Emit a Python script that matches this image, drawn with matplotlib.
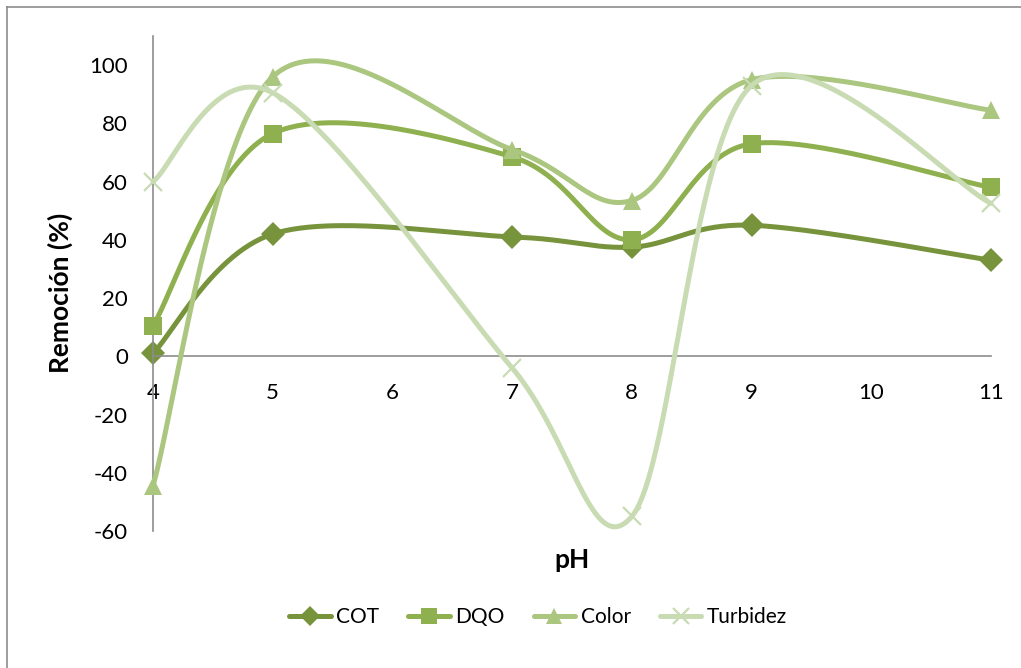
import numpy as np
import matplotlib
matplotlib.use("Agg")
import matplotlib.pyplot as plt
from matplotlib.lines import Line2D

# ---- data ----
ph = [4, 5, 7, 8, 9, 11]
cot = [1, 42, 41, 37.5, 45, 33]
dqo = [10.5, 76.5, 68.5, 40, 73, 58]
color = [-44.5, 96, 71, 53.5, 95, 84.5]
turbidez = [60, 90.5, -4, -55, 93, 52.5]
series_names = ["COT", "DQO", "Color", "Turbidez"]
x_ticks = [4, 5, 6, 7, 8, 9, 10, 11]
y_ticks = [-60, -40, -20, 0, 20, 40, 60, 80, 100]

colors = ["#77933C", "#8FB04F", "#AAC67F", "#C8DBB3"]
markers = ["D", "s", "^", "x"]
msizes = [12, 13, 13, 13]

plt.rcParams['font.family'] = ['Lato', 'DejaVu Sans']


def smooth(xs, ys, n=60):
    P = np.column_stack([xs, ys]).astype(float)
    m = len(P)
    out = []
    for i in range(m - 1):
        p0 = P[i]
        p3 = P[i + 1]
        pm = P[i - 1] if i > 0 else P[i]
        pn = P[i + 2] if i + 2 < m else P[i + 1]
        c1 = p0 + (p3 - pm) / 6.0
        c2 = p3 - (pn - p0) / 6.0
        t = np.linspace(0, 1, n)[:, None]
        seg = ((1 - t) ** 3) * p0 + 3 * ((1 - t) ** 2) * t * c1 + 3 * (1 - t) * t ** 2 * c2 + t ** 3 * p3
        out.append(seg if i == 0 else seg[1:])
    seg = np.vstack(out)
    return seg[:, 0], seg[:, 1]


fig = plt.figure(figsize=(10.21, 6.68), dpi=100)
ax = fig.add_axes([153 / 1021, 1 - 531 / 668, (991 - 153) / 1021, (531 - 36) / 668])

data = [cot, dqo, color, turbidez]
handles = []
for k, (name, ys) in enumerate(zip(series_names, data)):
    sx, sy = smooth(ph, ys)
    ax.plot(sx, sy, color=colors[k], lw=3.6, solid_capstyle='round', zorder=2 + k, clip_on=False)
    if markers[k] == 'x':
        ax.plot(ph, ys, linestyle='none', marker='x', markersize=msizes[k], markeredgewidth=1.6,
                color=colors[k], zorder=2 + k, clip_on=False)
    else:
        ax.plot(ph, ys, linestyle='none', marker=markers[k], markersize=msizes[k],
                color=colors[k], markeredgewidth=0, zorder=2 + k, clip_on=False)
    h = Line2D([], [], color=colors[k], lw=3.6, marker=markers[k],
               markersize=msizes[k] * 0.85, markeredgewidth=(1.6 if markers[k] == 'x' else 0),
               solid_capstyle='round')
    handles.append(h)

ax.set_xlim(4, 11)
ax.set_ylim(-60, 110)
ax.set_xticks(x_ticks)
ax.set_yticks(y_ticks)
ax.set_xticklabels([str(v) for v in x_ticks])
ax.set_yticklabels([str(v) for v in y_ticks])

for s in ['top', 'right']:
    ax.spines[s].set_visible(False)
ax.spines['bottom'].set_position(('data', 0))
ax.spines['bottom'].set_color('#8C8C8C')
ax.spines['left'].set_color('#8C8C8C')
ax.spines['bottom'].set_linewidth(1.2)
ax.spines['left'].set_linewidth(1.2)
ax.tick_params(axis='both', length=0, labelsize=16, colors='black')
ax.tick_params(axis='x', pad=19)
ax.tick_params(axis='y', pad=18)
ax.patch.set_alpha(0)

fig.text(60 / 1021, 1 - 293 / 668, "Remoción (%)", rotation=90, ha='center', va='center',
         fontsize=19, fontweight='bold')
fig.text(572 / 1021, 1 - 560 / 668, "pH", ha='center', va='center', fontsize=19, fontweight='bold')

fig.legend(handles, series_names, loc='center', bbox_to_anchor=(538 / 1021, 1 - 617 / 668),
           ncol=4, frameon=False, fontsize=15, handlelength=2.0, columnspacing=1.4,
           handletextpad=0.25)

# outer border (top and left visible)
fig.add_artist(Line2D([7 / 1021, 1], [1 - 7 / 668, 1 - 7 / 668], color='#8C8C8C', lw=1.2,
                      transform=fig.transFigure))
fig.add_artist(Line2D([7 / 1021, 7 / 1021], [0, 1 - 7 / 668], color='#8C8C8C', lw=1.2,
                      transform=fig.transFigure))

fig.savefig("out.png", dpi=100)
